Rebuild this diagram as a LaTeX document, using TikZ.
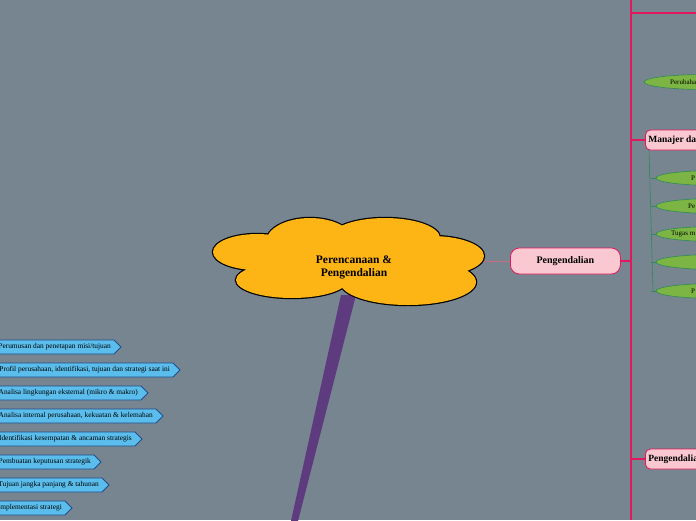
\documentclass[tikz,border=0pt]{standalone}
\usepackage{fontspec}
\setmainfont{Liberation Serif}
\usetikzlibrary{shapes.symbols,shapes.geometric}
\definecolor{bg}{HTML}{778590}
\definecolor{mag}{HTML}{E0195E}
\definecolor{pinkf}{HTML}{F9C8D0}
\definecolor{bluef}{HTML}{5BBDEB}
\definecolor{blued}{HTML}{1F4E8C}
\definecolor{greenf}{HTML}{7DB544}
\definecolor{greend}{HTML}{2E8B57}
\definecolor{cloudy}{HTML}{FDB515}
\tikzset{
 pinknode/.style={draw=mag,fill=pinkf,line width=0.8pt,rounded corners=5pt,font=\bfseries\fontsize{9.5}{10}\selectfont,inner sep=3pt,minimum height=20pt,anchor=west},
 leaf/.style={draw=greend,fill=greenf,ellipse,minimum height=15pt,minimum width=120pt,line width=0.6pt},
 leaftxt/.style={font=\fontsize{7}{8}\selectfont,anchor=west,inner sep=0pt},
 bluetxt/.style={font=\fontsize{7.4}{8}\selectfont,anchor=west,inner sep=0pt},
 puffs/.style={insert path={(257,252) ellipse [x radius=44,y radius=18] (310,242) ellipse [x radius=44,y radius=24] (385,238) ellipse [x radius=55,y radius=20] (432,256) ellipse [x radius=52,y radius=20] (408,282) ellipse [x radius=68,y radius=23] (292,280) ellipse [x radius=56,y radius=18] (348,262) ellipse [x radius=100,y radius=26]}},
}
\begin{document}
\begin{tikzpicture}[x=1pt,y=-1pt]
\fill[bg] (0,0) rectangle (696,520);
\clip (0,0) rectangle (696,520);
% purple branch
\fill[color={rgb,255:red,94;green,58;blue,126}] (341,295) -- (356,295) -- (298,521) -- (291,521) -- cycle;
% cloud
\draw[black,line width=2.4pt,puffs];
\fill[cloudy,puffs];
\node[ellipse,minimum width=270pt,minimum height=88pt,align=center,font=\bfseries\fontsize{11.5}{13}\selectfont] (cl) at (354,267) {Perencanaan \&\\Pengendalian};
% Pengendalian
\node[pinknode,minimum width=110pt,rounded corners=9pt,minimum height=26pt,font=\bfseries\fontsize{10}{11}\selectfont] (pg) at (510,261) {Pengendalian};
\draw[color={rgb,255:red,200;green,110;blue,130},line width=0.5pt] (484,261) -- (pg.west);
\coordinate (vt) at (631,0);
\coordinate (vb) at (631,520);
\draw[mag,line width=2pt] (vt) -- (vb);
\draw[mag,line width=2pt] (pg.east) -- (631,261);
\draw[mag,line width=2pt] (631,13) -- (696,13);
\node[pinknode] (mj) at (645,140) {Manajer dan Pengendalian};
\node[pinknode] (pd) at (645,459) {Pengendalian Strategis};
\draw[mag,line width=2pt] (631,140) -- (mj.west);
\draw[mag,line width=2pt] (631,459) -- (pd.west);
% green leaves
\node[leaf] (e0) at (704,82) {};
\node[leaftxt] at (670,82) {Perubahan};
\draw[greend,line width=0.6pt] (649,150) -- (653,291);
\foreach \y/\t/\xx [count=\i] in {178/P/691,206/Pe/688,234/Tugas m/671,262//690,291/P/691}{
  \node[leaf] (g\i) at (716,\y) {};
  \draw[greend,line width=0.5pt] (651,\y) -- (g\i.west);
  \node[leaftxt] at (\xx,\y) {\t};
}
% blue arrows
\foreach \y/\e/\t in {347/121/{Perumusan dan penetapan misi/tujuan},
  370/180/{Profil perusahaan, identifikasi, tujuan dan strategi saat ini},
  393/148/{Analisa lingkungan eksternal (mikro \& makro)},
  416/163/{Analisa internal perusahaan, kekuatan \& kelemahan},
  439/142/{Identifikasi kesempatan \& ancaman strategis},
  462/101/{Pembuatan keputusan strategik},
  485/109/{Tujuan jangka panjang \& tahunan},
  508/72/{Implementasi strategi}}{
  \draw[blued,fill=bluef,line width=0.8pt] (-10,\y-7) -- (\e-7,\y-7) -- (\e,\y) -- (\e-7,\y+7) -- (-10,\y+7) -- cycle;
  \node[bluetxt,anchor=east] at (\e-10,\y) {\t};
}
\end{tikzpicture}
\end{document}
